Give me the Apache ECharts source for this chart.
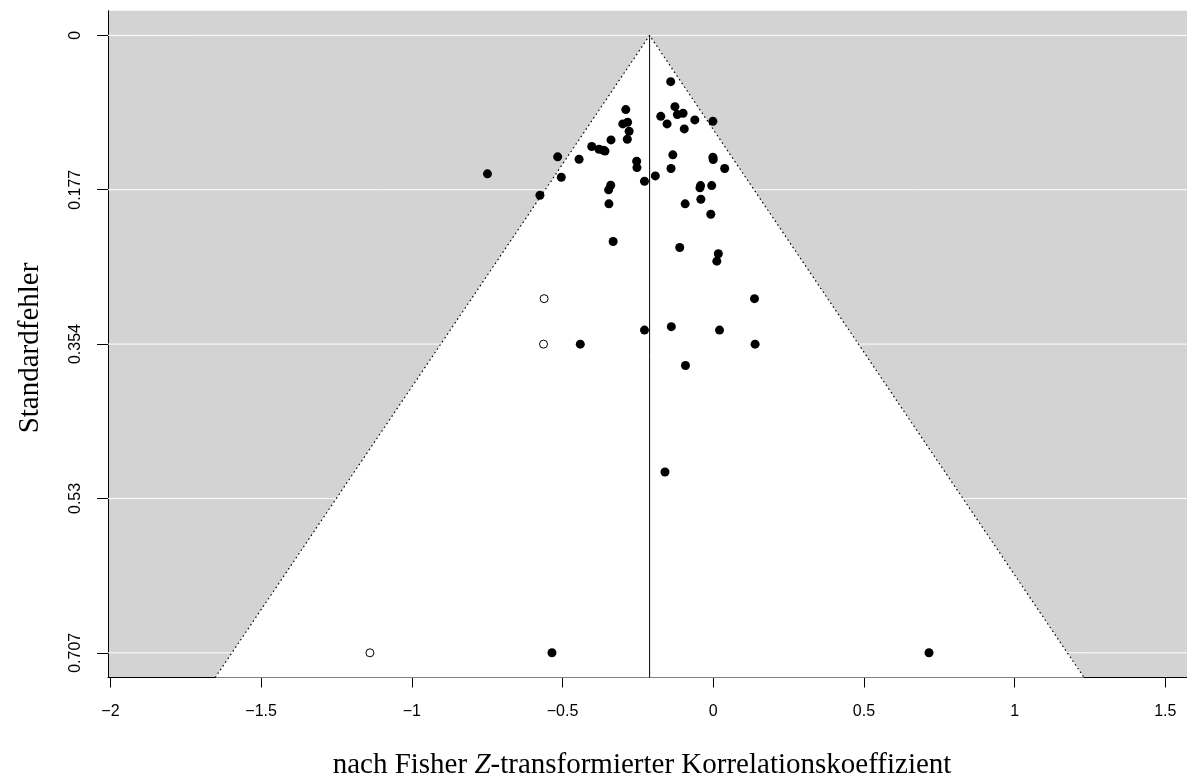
<!DOCTYPE html>
<html>
<head>
<meta charset="utf-8">
<script src="https://cdn.jsdelivr.net/npm/echarts@6/dist/echarts.min.js"></script>
<style>html,body{margin:0;padding:0;background:#fff;}#c{width:1187px;height:782px;}</style>
</head>
<body>
<div id="c"></div>
<script>
// Observed studies: Fisher z (x) and standard error (y)
const zObserved = [-0.141,-0.290,-0.127,-0.174,-0.119,-0.100,-0.061,-0.001,-0.153,-0.096,
  -0.300,-0.284,-0.279,-0.285,-0.339,-0.403,-0.379,-0.364,-0.359,-0.516,
  -0.445,-0.254,-0.253,-0.134,-0.140,-0.001,0.000,0.038,-0.749,-0.504,
  -0.192,-0.228,-0.340,-0.347,-0.042,-0.044,-0.005,-0.575,-0.346,-0.093,
  -0.041,-0.008,-0.332,-0.111,0.017,0.012,-0.441,-0.228,-0.139,0.021,
  0.137,0.139,-0.092,-0.160,-0.535,0.716];
const seObserved = [0.0530,0.0850,0.0816,0.0927,0.0907,0.0892,0.0968,0.0984,0.1014,0.1071,
  0.1014,0.0995,0.1098,0.1190,0.1197,0.1273,0.1304,0.1316,0.1325,0.1391,
  0.1419,0.1442,0.1514,0.1368,0.1525,0.1396,0.1422,0.1525,0.1586,0.1625,
  0.1609,0.1670,0.1716,0.1769,0.1720,0.1746,0.1720,0.1831,0.1929,0.1929,
  0.1876,0.2048,0.2360,0.2429,0.2501,0.2586,0.3536,0.3375,0.3336,0.3375,
  0.3015,0.3536,0.3780,0.5000,0.7071,0.7071];
// Imputed (trim-and-fill) studies
const zFilled = [-0.561,-0.563,-1.139];
const seFilled = [0.3015,0.3536,0.7071];
// Pooled estimate
const pooledEstimate = -0.211;
// Axis ticks
const xTicks = [-2,-1.5,-1,-0.5,0,0.5,1,1.5];
const yTicks = [0,0.17678,0.35355,0.53033,0.70711];
const yTickLabels = ['0','0.177','0.354','0.53','0.707'];

const xMin = -2.008, xMax = 1.572;
const yMin = -0.02828, yMax = 0.73539;

const obsData = zObserved.map((z,i)=>[z, seObserved[i]]);
const fillData = zFilled.map((z,i)=>[z, seFilled[i]]);
const funnelPts = [[pooledEstimate - 1.96*yMax, yMax],[pooledEstimate,0],[pooledEstimate + 1.96*yMax, yMax]];

const chart = echarts.init(document.getElementById('c'), null, {renderer:'canvas'});
const fmtNum = v => String(v).replace('-', '\u2212');

chart.setOption({
  animation:false,
  backgroundColor:'#ffffff',
  grid:{left:108, right:0, top:10.7, bottom:104.5, show:true, backgroundColor:'#d3d3d3', borderWidth:0},
  xAxis:{
    type:'value', min:xMin, max:xMax,
    axisLine:{show:true, onZero:false, lineStyle:{color:'#000', width:1}},
    axisTick:{show:true, length:10, customValues:xTicks, lineStyle:{color:'#000', width:1}},
    axisLabel:{customValues:xTicks, formatter:v=>fmtNum(v), color:'#000', fontFamily:'Liberation Sans', fontSize:16, margin:26},
    splitLine:{show:false}
  },
  yAxis:{
    type:'value', inverse:true, min:yMin, max:yMax,
    axisLine:{show:true, onZero:false, lineStyle:{color:'#000', width:1}},
    axisTick:{show:true, length:11, customValues:yTicks, lineStyle:{color:'#000', width:1}},
    axisLabel:{customValues:yTicks, rotate:90, color:'#000', fontFamily:'Liberation Sans', fontSize:16, margin:24,
      formatter:v=>{ let best=0; yTicks.forEach((t,i)=>{ if (Math.abs(t-v)<Math.abs(yTicks[best]-v)) best=i; }); return yTickLabels[best]; }},
    splitLine:{show:false}
  },
  graphic:[
    {type:'text', x:30, y:348, rotation:Math.PI/2,
      style:{text:'Standardfehler', fill:'#000', font:'29px "Liberation Serif"', align:'center', verticalAlign:'middle'}},
    {type:'text', x:642, y:765,
      style:{text:'{a|nach Fisher }{i|Z}{a|-transformierter Korrelationskoeffizient}', align:'center', verticalAlign:'middle',
        rich:{a:{fontFamily:'Liberation Serif', fontSize:29, fill:'#000'}, i:{fontFamily:'Liberation Serif', fontSize:29, fontStyle:'italic', fill:'#000'}}}}
  ],
  series:[
    {
      type:'custom', silent:true, z:1,
      data:[0],
      renderItem:(params, api)=>{
        const pts = funnelPts.map(p=>api.coord(p));
        return {type:'polygon', shape:{points:pts}, style:{fill:'#ffffff', stroke:null}};
      }
    },
    {
      type:'custom', silent:true, z:2,
      data:yTicks,
      renderItem:(params, api)=>{
        const v = api.value(0);
        const a = api.coord([xMin, v]), b = api.coord([xMax, v]);
        return {type:'line', shape:{x1:a[0], y1:a[1], x2:b[0], y2:b[1]}, style:{stroke:'#ffffff', lineWidth:1}};
      }
    },
    {
      type:'line', silent:true, z:3, symbol:'none', data:funnelPts,
      lineStyle:{color:'#000', width:1.2, type:[1.5,3]}
    },
    {
      type:'line', silent:true, z:3, symbol:'none', data:[[pooledEstimate,0],[pooledEstimate,yMax]],
      lineStyle:{color:'#000', width:1, type:'solid'}
    },
    {
      type:'scatter', z:4, data:obsData, symbol:'circle', symbolSize:9,
      itemStyle:{color:'#000', opacity:1}
    },
    {
      type:'scatter', z:4, data:fillData, symbol:'circle', symbolSize:8,
      itemStyle:{color:'#fff', borderColor:'#000', borderWidth:1, opacity:1}
    }
  ]
});
</script>
</body>
</html>
